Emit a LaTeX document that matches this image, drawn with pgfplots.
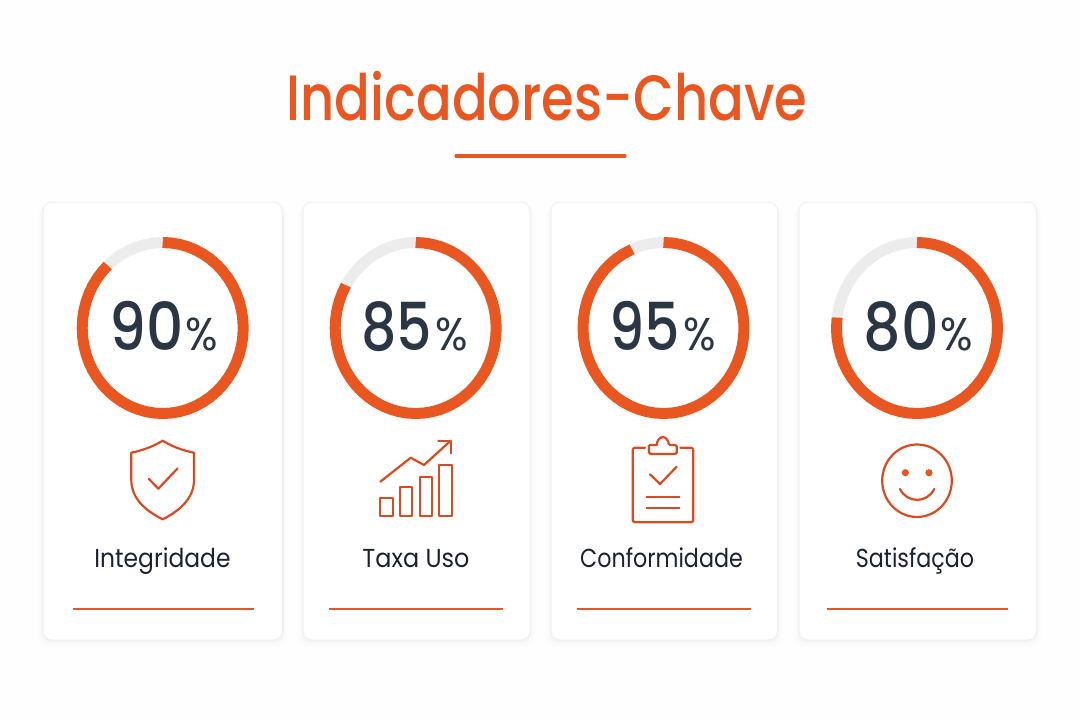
\documentclass[border=0pt]{standalone}
\usepackage{pgfplots}
\pgfplotsset{compat=1.18}
\usepackage{fontspec}
\setmainfont{Poppins}
\newfontfamily\medfont{Poppins Medium}
\definecolor{org}{HTML}{E9561F}
\definecolor{icon}{HTML}{DB4A20}
\definecolor{ringbg}{HTML}{ECECEC}
\definecolor{numc}{HTML}{2B3645}
\definecolor{labc}{HTML}{1B2230}
\newcommand\card[2]{%
  \fill[black,opacity=.008,rounded corners=11pt] (axis cs:#1-5,204) rectangle (axis cs:#2+5,647);
  \fill[black,opacity=.008,rounded corners=10pt] (axis cs:#1-3,204) rectangle (axis cs:#2+3,645);
  \fill[black,opacity=.010,rounded corners=10pt] (axis cs:#1-2,204) rectangle (axis cs:#2+2,643);
  \fill[black,opacity=.012,rounded corners=10pt] (axis cs:#1-1,203) rectangle (axis cs:#2+1,641.5);
  \draw[draw=black!6,fill=white,line width=1pt,rounded corners=9pt] (axis cs:#1,202) rectangle (axis cs:#2,640);
}
\newcommand\ring[3]{% x of centre, orange path, grey path
  \begin{axis}[at={(#1-80.5pt,306.5pt)},anchor=south west,scale only axis,width=161pt,height=171pt,
    xmin=-1,xmax=1,ymin=-1,ymax=1,hide axis,clip=false]
    \addplot[ringbg,line width=11pt,line cap=butt,line join=round,no marks,data cs=polar] coordinates {#3};
    \addplot[org,line width=11pt,line cap=butt,line join=round,no marks,data cs=polar] coordinates {#2};
  \end{axis}}
\newcommand\pct[4]{% right edge of digits, left edge of percent, digits, xscale
  \node[anchor=base east,text=numc,inner sep=0pt,font=\fontsize{66}{70}\selectfont\medfont] at (axis cs:#1,350) {\scalebox{#4}[1]{#3}};
  \node[anchor=base west,text=numc,inner sep=0pt,font=\fontsize{46}{50}\selectfont] at (axis cs:#2,350) {\scalebox{0.93}[1]{\%}};
}
\begin{document}
\begin{tikzpicture}[x=1pt,y=1pt]
\begin{axis}[at={(0pt,0pt)},anchor=south west,scale only axis,width=1080pt,height=720pt,
  xmin=0,xmax=1080,ymin=0,ymax=720,y dir=reverse,hide axis,clip=false]
  \fill[white!99.5!black] (axis cs:0,0) rectangle (axis cs:1080,720);
  % title
  \node[anchor=base,text=org,inner sep=0pt,font=\fontsize{64}{70}\selectfont\medfont] at (axis cs:547,120) {\scalebox{0.825}[1]{Indicadores-Chave}};
  \draw[org,line width=3.2pt,line cap=round] (axis cs:456,156) -- (axis cs:625,156);
  % cards
  \card{43}{282.5}
  \card{303}{530}
  \card{551}{777.5}
  \card{799}{1036.5}
  % separators
  \draw[org,line width=1.7pt] (axis cs:72.5,609.3) -- (axis cs:253.5,609.3);
  \draw[org,line width=1.7pt] (axis cs:329,609.3) -- (axis cs:503,609.3);
  \draw[org,line width=1.7pt] (axis cs:577,609.3) -- (axis cs:750.5,609.3);
  \draw[org,line width=1.7pt] (axis cs:827,609.3) -- (axis cs:1007.5,609.3);
  % numbers
  \pct{184}{185.5}{90}{0.88}
  \pct{432}{435}{85}{0.84}
  \pct{680}{683}{95}{0.84}
  \pct{939}{940.5}{80}{0.89}
  % labels
  \node[anchor=base,text=labc,inner sep=0pt,font=\fontsize{26}{30}\selectfont] at (axis cs:162.5,567) {\scalebox{0.90}[1]{Integridade}};
  \node[anchor=base,text=labc,inner sep=0pt,font=\fontsize{26}{30}\selectfont] at (axis cs:416,567) {\scalebox{0.92}[1]{Taxa Uso}};
  \node[anchor=base,text=labc,inner sep=0pt,font=\fontsize{26}{30}\selectfont] at (axis cs:661.5,567) {\scalebox{0.855}[1]{Conformidade}};
  \node[anchor=base,text=labc,inner sep=0pt,font=\fontsize{26}{30}\selectfont] at (axis cs:915,567) {\scalebox{0.855}[1]{Satisfação}};
  % shield
  \draw[icon,line width=2.2pt,line join=round,line cap=round]
    (axis cs:162.7,440.7) .. controls (axis cs:152,447) and (axis cs:142,450.5) .. (axis cs:131.3,452.7)
    -- (axis cs:131.3,480) .. controls (axis cs:131.3,500) and (axis cs:148,512) .. (axis cs:162.7,519.3)
    .. controls (axis cs:177,512) and (axis cs:194,500) .. (axis cs:194,480)
    -- (axis cs:194,452.7) .. controls (axis cs:183,450.5) and (axis cs:173,447) .. cycle;
  \draw[icon,line width=2.2pt,line join=round,line cap=round]
    (axis cs:149,479) -- (axis cs:158.3,488.7) -- (axis cs:177.7,468.3);
  % growth icon
  \draw[icon,line width=2.2pt,line join=round] (axis cs:380.3,497.7) rectangle (axis cs:392.7,516);
  \draw[icon,line width=2.2pt,line join=round] (axis cs:400,486.7) rectangle (axis cs:412,516);
  \draw[icon,line width=2.2pt,line join=round] (axis cs:419.7,476.7) rectangle (axis cs:431.7,516);
  \draw[icon,line width=2.2pt,line join=round] (axis cs:439.3,465) rectangle (axis cs:451.7,516);
  \draw[icon,line width=2.2pt,line join=round,line cap=round]
    (axis cs:380.3,481.7) -- (axis cs:410.7,457.7) -- (axis cs:424,465) -- (axis cs:450.7,440.7);
  \draw[icon,line width=2.2pt,line join=round,line cap=round]
    (axis cs:438.3,440.7) -- (axis cs:451,440.7) -- (axis cs:451,453.3);
  % clipboard
  \draw[icon,line width=2.2pt,line join=round,line cap=round,rounded corners=2.5pt]
    (axis cs:645,447.7) -- (axis cs:632.7,447.7) -- (axis cs:632.7,522.3) -- (axis cs:693.3,522.3) -- (axis cs:693.3,447.7) -- (axis cs:680.5,447.7);
  \draw[icon,line width=2.2pt,line join=round,rounded corners=1.5pt]
    (axis cs:649,445) -- (axis cs:649,454) -- (axis cs:676.7,454) -- (axis cs:676.7,445) -- (axis cs:669,445);
  \draw[icon,line width=2.2pt,line join=round]
    (axis cs:669,445) .. controls (axis cs:668,434.5) and (axis cs:657.5,434.5) .. (axis cs:656.7,445) -- (axis cs:649,445);
  \draw[icon,line width=2.2pt,line join=round,line cap=round]
    (axis cs:650,474.3) -- (axis cs:660,484) -- (axis cs:676.7,466.7);
  \draw[icon,line width=2.2pt] (axis cs:645.7,497.3) -- (axis cs:680,497.3);
  \draw[icon,line width=2.2pt] (axis cs:645.7,507.7) -- (axis cs:680,507.7);
  % smiley
  \draw[icon,line width=2.2pt] (axis cs:917,444.5) .. controls (axis cs:936.2,444.5) and (axis cs:951.8,460.7) .. (axis cs:951.8,480.7)
     .. controls (axis cs:951.8,500.7) and (axis cs:936.2,517) .. (axis cs:917,517)
     .. controls (axis cs:897.8,517) and (axis cs:882.2,500.7) .. (axis cs:882.2,480.7)
     .. controls (axis cs:882.2,460.7) and (axis cs:897.8,444.5) .. cycle;
  \fill[org] (axis cs:905.3,472.7) circle[radius=3.6pt];
  \fill[org] (axis cs:929,472.7) circle[radius=3.6pt];
  \draw[icon,line width=2.2pt,line cap=round] (axis cs:900,489) .. controls (axis cs:907,503.5) and (axis cs:927,503.5) .. (axis cs:934.3,489);
\end{axis}
\ring{162.7}{(90,1)(84,1)(78,1)(72,1)(66,1)(60,1)(54,1)(48,1)(42,1)(36,1)(30,1)(24,1)(18,1)(12,1)(6,1)(0,1)(-6,1)(-12,1)(-18,1)(-24,1)(-30,1)(-36,1)(-42,1)(-48,1)(-54,1)(-60,1)(-66,1)(-72,1)(-78,1)(-84,1)(-90,1)(-96,1)(-102,1)(-108,1)(-114,1)(-120,1)(-126,1)(-132,1)(-138,1)(-144,1)(-150,1)(-156,1)(-162,1)(-168,1)(-174,1)(-180,1)(-186,1)(-192,1)(-198,1)(-204,1)(-210,1)(-216,1)(-222,1)(-227,1)}{(-227,1)(-233,1)(-239,1)(-245,1)(-251,1)(-257,1)(-263,1)(-270,1)}
\ring{415.7}{(90,1)(84,1)(78,1)(72,1)(66,1)(60,1)(54,1)(48,1)(42,1)(36,1)(30,1)(24,1)(18,1)(12,1)(6,1)(0,1)(-6,1)(-12,1)(-18,1)(-24,1)(-30,1)(-36,1)(-42,1)(-48,1)(-54,1)(-60,1)(-66,1)(-72,1)(-78,1)(-84,1)(-90,1)(-96,1)(-102,1)(-108,1)(-114,1)(-120,1)(-126,1)(-132,1)(-138,1)(-144,1)(-150,1)(-156,1)(-162,1)(-168,1)(-174,1)(-180,1)(-186,1)(-192,1)(-198,1)(-204,1)(-210,1)}{(-210,1)(-216,1)(-222,1)(-228,1)(-234,1)(-240,1)(-246,1)(-252,1)(-258,1)(-264,1)(-270,1)}
\ring{663.5}{(90,1)(84,1)(78,1)(72,1)(66,1)(60,1)(54,1)(48,1)(42,1)(36,1)(30,1)(24,1)(18,1)(12,1)(6,1)(0,1)(-6,1)(-12,1)(-18,1)(-24,1)(-30,1)(-36,1)(-42,1)(-48,1)(-54,1)(-60,1)(-66,1)(-72,1)(-78,1)(-84,1)(-90,1)(-96,1)(-102,1)(-108,1)(-114,1)(-120,1)(-126,1)(-132,1)(-138,1)(-144,1)(-150,1)(-156,1)(-162,1)(-168,1)(-174,1)(-180,1)(-186,1)(-192,1)(-198,1)(-204,1)(-210,1)(-216,1)(-222,1)(-228,1)(-234,1)(-240,1)(-247,1)}{(-247,1)(-253,1)(-259,1)(-265,1)(-270,1)}
\ring{917}{(90,1)(84,1)(78,1)(72,1)(66,1)(60,1)(54,1)(48,1)(42,1)(36,1)(30,1)(24,1)(18,1)(12,1)(6,1)(0,1)(-6,1)(-12,1)(-18,1)(-24,1)(-30,1)(-36,1)(-42,1)(-48,1)(-54,1)(-60,1)(-66,1)(-72,1)(-78,1)(-84,1)(-90,1)(-96,1)(-102,1)(-108,1)(-114,1)(-120,1)(-126,1)(-132,1)(-138,1)(-144,1)(-150,1)(-156,1)(-162,1)(-168,1)(-174,1)(-180,1)(-187,1)}{(-187,1)(-193,1)(-199,1)(-205,1)(-211,1)(-217,1)(-223,1)(-229,1)(-235,1)(-241,1)(-247,1)(-253,1)(-259,1)(-265,1)(-270,1)}
\end{tikzpicture}
\end{document}
